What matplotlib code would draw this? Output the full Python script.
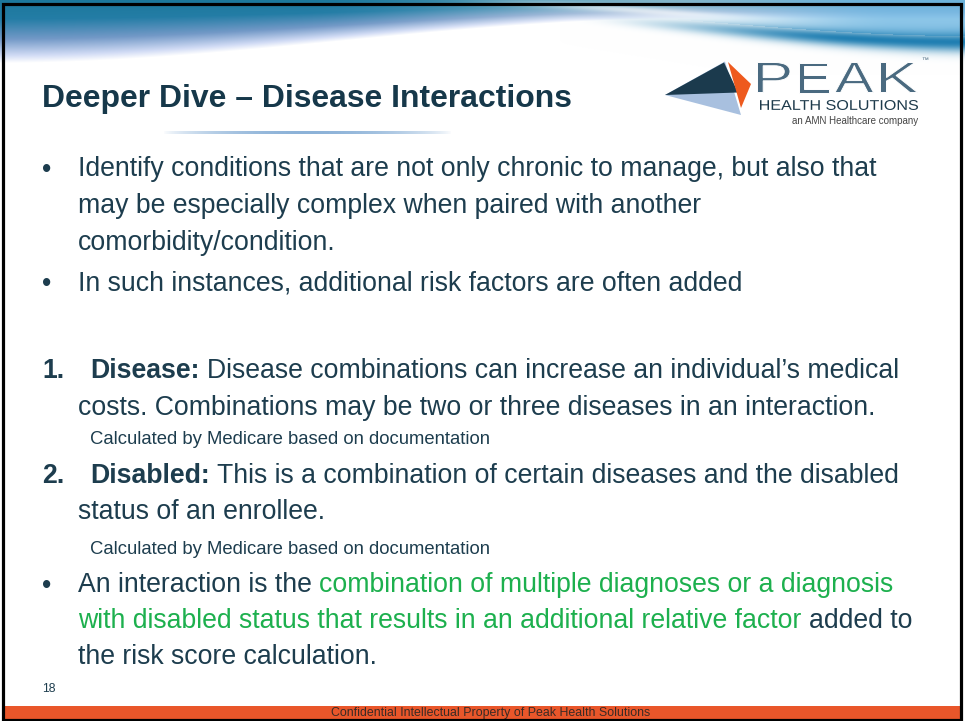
import numpy as np
import matplotlib
matplotlib.use("Agg")
import matplotlib.pyplot as plt
from matplotlib.patches import Polygon, Rectangle, PathPatch
from matplotlib.textpath import TextPath
from matplotlib.font_manager import FontProperties
from matplotlib.transforms import Affine2D

# ---------------- content ----------------
title = "Deeper Dive \u2013 Disease Interactions"
bullet1_lines = ["Identify conditions that are not only chronic to manage, but also that",
                 "may be especially complex when paired with another",
                 "comorbidity/condition."]
bullet2_line = "In such instances, additional risk factors are often added"
item1_label = "1."
item1_head = "Disease:"
item1_lines = ["Disease combinations can increase an individual\u2019s medical",
               "costs. Combinations may be two or three diseases in an interaction."]
item2_label = "2."
item2_head = "Disabled:"
item2_lines = ["This is a combination of certain diseases and the disabled",
               "status of an enrollee."]
note_text = "Calculated by Medicare based on documentation"
bullet3_segments = [
    [("An interaction is the", "dark"), ("combination of multiple diagnoses or a diagnosis", "green")],
    [("with disabled status that results in an additional relative factor", "green"), ("added to", "dark")],
    [("the risk score calculation.", "dark")],
]
page_number = "18"
footer_text = "Confidential Intellectual Property of Peak Health Solutions"
logo_word = ["P", "E", "A", "K"]
logo_sub = "HEALTH SOLUTIONS"
logo_tag = "an AMN Healthcare company"

# ---------------- style ----------------
DARK = "#1d3d4e"
TITLE_C = "#16384a"
GREEN = "#1db04e"
FONT = "Liberation Sans"
BODY = 19.2
SMALL = 13.3
TITLE_FS = 23

fig = plt.figure(figsize=(9.65, 7.21), dpi=100)
ax = fig.add_axes([0, 0, 1, 1])
ax.set_xlim(0, 965)
ax.set_ylim(721, 0)
ax.axis("off")
renderer = fig.canvas.get_renderer()
inv = ax.transData.inverted()


def width_px(t):
    bb = t.get_window_extent(renderer)
    return bb.x1 - bb.x0


def fit_width(t, target):
    t.set_fontsize(t.get_fontsize() * target / width_px(t))


# ---------------- banner ----------------
W, H = 965, 75
xs = np.arange(W)[None, :] + 0.5
ys = np.arange(H)[:, None] + 0.5


def sstep(t):
    t = np.clip(t, 0, 1)
    return t * t * (3 - 2 * t)


img = np.ones((H, W, 3))
b1 = 63 - 44 * sstep(xs / 680)
d = np.broadcast_to(ys / b1, (H, W))
stops = [0, 0.30, 0.62, 0.88, 1.0]
cols = np.array([[0.11, 0.47, 0.61], [0.14, 0.49, 0.65], [0.45, 0.60, 0.78],
                 [0.82, 0.86, 0.96], [1, 1, 1]])
c = np.stack([np.interp(d, stops, cols[:, k]) for k in range(3)], -1)
strength = np.broadcast_to(1 - 0.45 * sstep((xs - 300) / 400), (H, W))[..., None]
img = img * (1 - strength) + c * strength

# white streak from the right swoosh
u = np.clip((xs - 430) / 535, 0, 1)
cy = 14 + 28 * sstep(u) ** 1.1
ws = np.exp(-((ys - (cy - 12)) / 4) ** 2) * sstep(u * 2.5) * 0.6
img = img * (1 - ws[..., None]) + ws[..., None]
# light blue fill above band on the right
a2 = np.where(ys < cy - 6, 0.75 * sstep((xs - 650) / 250), 0.0)[..., None]
img = img * (1 - a2) + np.array([0.40, 0.70, 0.88]) * a2
# darker band
bw = 3 + 7 * u
a3 = (np.exp(-((ys - cy) / bw) ** 2) * sstep((xs - 560) / 300))[..., None]
img = img * (1 - a3) + np.array([0.13, 0.50, 0.70]) * a3
ax.imshow(img, extent=(0, 965, H, 0), origin="upper", aspect="auto", zorder=0,
          interpolation="bilinear")

# faint underline under the title
lx = np.linspace(0, 1, 300)
line_img = np.zeros((1, 300, 4))
line_img[..., 0] = 0.55
line_img[..., 1] = 0.70
line_img[..., 2] = 0.85
line_img[..., 3] = np.sin(np.pi * lx) ** 0.7
ax.imshow(line_img, extent=(163, 452, 134.5, 131.5), origin="upper", aspect="auto", zorder=1)

# ---------------- logo ----------------
ax.add_patch(Polygon([(665, 95), (725, 61.5), (741, 115)], closed=True,
                     facecolor="#a8c0df", edgecolor="none", zorder=2))
ax.add_patch(Polygon([(665, 95), (724, 62.5), (738, 92.5)], closed=True,
                     facecolor="#1b3a4d", edgecolor="none", zorder=3))
ax.add_patch(Polygon([(728, 62), (751, 84), (741, 108)], closed=True,
                     facecolor="#ee5a1e", edgecolor="none", zorder=3))


def fit_text(s, x0, x1, ytop, ybot, color, weight="normal", thin=0.0):
    fp = FontProperties(family=FONT, weight=weight)
    tp = TextPath((0, 0), s, size=100, prop=fp)
    ext = tp.get_extents()
    sx = (x1 - x0) / ext.width
    sy = (ybot - ytop) / ext.height
    tr = (Affine2D().translate(-ext.x0, -ext.y0).scale(sx, -sy)
          .translate(x0, ybot))
    ax.add_patch(PathPatch(tr.transform_path(tp), facecolor=color,
                           edgecolor="white" if thin else "none",
                           linewidth=thin, zorder=4))


peak_boxes = [(757.5, 790), (798.5, 828.5), (835, 873.5), (880.5, 917.5)]
for letter, (a, b) in zip(logo_word, peak_boxes):
    fit_text(letter, a, b, 62.5, 92.5, "#4a6a80", thin=0.7)
ax.text(921, 60, "\u2122", fontsize=5, color="#4a6a80", family=FONT, va="center")
fit_text(logo_sub, 760, 918, 100, 110, "#1e3b4c")
ax.text(918, 121.5, logo_tag, fontsize=7, color="#444444", family=FONT,
        ha="right", va="center")

# ---------------- text ----------------
t_title = ax.text(42, 107.5, title, fontsize=TITLE_FS, weight="bold", color=TITLE_C,
                  family=FONT, va="baseline")
fit_width(t_title, 531)


def run(x, y, segs, fs):
    """segments: list of (text, color, weight) placed on one baseline."""
    space = 0.278 * fs * 100 / 72
    for s, col, wt in segs:
        t = ax.text(x, y, s, fontsize=fs, color=col, weight=wt, family=FONT,
                    va="baseline", ha="left")
        bb = t.get_window_extent(renderer)
        x = inv.transform((bb.x1, bb.y0))[0] + space


def bullet(y):
    ax.text(42, y, "\u2022", fontsize=BODY, color=DARK, family=FONT, va="baseline")


def line(x, y, s, fs=BODY, weight="normal"):
    ax.text(x, y, s, fontsize=fs, color=DARK, weight=weight, family=FONT, va="baseline")


# bullet 1
b1_base = [176.5, 213, 249.5]
bullet(b1_base[0])
for yb, s in zip(b1_base, bullet1_lines):
    line(78, yb, s)

# bullet 2
bullet(290.5)
line(78, 290.5, bullet2_line)

# item 1
line(42, 378.5, item1_label, weight="bold")
run(90, 378.5, [(item1_head, DARK, "bold"), (item1_lines[0], DARK, "normal")], BODY)
line(78, 415, item1_lines[1])
line(90, 443.5, note_text, fs=SMALL)

# item 2
line(42, 483, item2_label, weight="bold")
run(90, 483, [(item2_head, DARK, "bold"), (item2_lines[0], DARK, "normal")], BODY)
line(78, 519, item2_lines[1])
line(90, 553.5, note_text, fs=SMALL)

# bullet 3
b3_base = [592.5, 628.5, 664]
bullet(b3_base[0])
cmap = {"dark": DARK, "green": GREEN}
for yb, segs in zip(b3_base, bullet3_segments):
    run(78, yb, [(s, cmap[k], "normal") for s, k in segs], BODY)

# page number
ax.text(42, 692.5, page_number, fontsize=8.7, color=DARK, family=FONT, va="baseline")

# footer
ax.add_patch(Rectangle((3, 706), 958, 13, facecolor="#e9562a", edgecolor="none", zorder=5))
t_foot = ax.text(491, 713, footer_text, fontsize=8.5, color="#3b2b25",
                 family=["Liberation Sans Narrow", FONT], ha="center", va="center", zorder=6)
fit_width(t_foot, 316)

# border
ax.add_patch(Rectangle((2.5, 3.5), 958, 716, facecolor="none", edgecolor="black",
                       linewidth=2.3, zorder=10))

fig.savefig("out.png", dpi=100)
